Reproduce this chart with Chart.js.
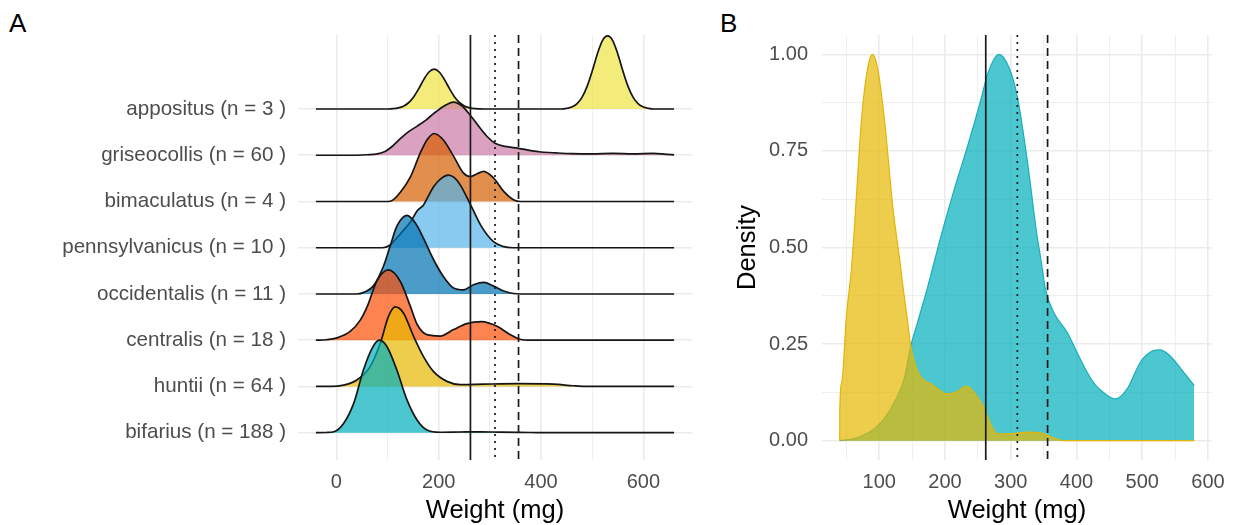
<!DOCTYPE html>
<html>
<head>
<meta charset="utf-8">
<script src="https://cdn.jsdelivr.net/npm/chart.js@4.4.1/dist/chart.umd.min.js"></script>
<style>
  body { margin: 0; background: #fff; width: 1236px; height: 525px; overflow: hidden; position: relative;
         font-family: 'Liberation Sans', Arial, sans-serif; }
  .tag { position: absolute; top: 10px; font-size: 26px; line-height: 26px; color: #000; }
  #wrapA { position: absolute; left: 0; top: 0; width: 700px; height: 525px; }
  #wrapB { position: absolute; left: 700px; top: 0; width: 536px; height: 525px; }
</style>
</head>
<body>
<div class="tag" style="left:9px">A</div>
<div class="tag" style="left:720px">B</div>
<div id="wrapA"><canvas id="ridgeChart"></canvas></div>
<div id="wrapB"><canvas id="densityChart"></canvas></div>
<script>
// ── data ──
const species = ['appositus (n = 3 )', 'griseocollis (n = 60 )', 'bimaculatus (n = 4 )', 'pennsylvanicus (n = 10 )',
                 'occidentalis (n = 11 )', 'centralis (n = 18 )', 'huntii (n = 64 )', 'bifarius (n = 188 )'];
const ridgeColors = ['#F0E442', '#CC79A7', '#D55E00', '#56B4E9', '#0072B2', '#FC4E07', '#E7B800', '#00AFBB'];

// ridge heights in row units, x in mg
const appositusX = [-40, 100, 111, 121, 131, 141, 151, 161, 171, 181, 191, 201, 211, 221, 231, 241, 251, 261, 271, 290,
                    440, 450, 460, 470, 480, 490, 500, 510, 520, 530, 540, 550, 560, 570, 580, 590, 600, 610, 620, 660];
const appositusH = [0, 0, 0.006, 0.023, 0.06, 0.135, 0.26, 0.44, 0.64, 0.80, 0.86, 0.80, 0.64, 0.44, 0.26, 0.135, 0.06, 0.023, 0.006, 0,
                    0, 0.014, 0.043, 0.11, 0.25, 0.49, 0.82, 1.19, 1.48, 1.58, 1.48, 1.19, 0.82, 0.49, 0.25, 0.11, 0.043, 0.014, 0, 0];
const griseoX = [-40, 40, 60, 80, 95, 110, 125, 140, 158, 175, 190, 210, 229, 245, 262, 280, 295, 310, 330, 356,
                 380, 400, 430, 460, 500, 540, 580, 620, 645, 660];
const griseoH = [0, 0, 0.01, 0.03, 0.08, 0.2, 0.36, 0.5, 0.63, 0.76, 0.9, 1.06, 1.15, 1.07, 0.86, 0.6, 0.4, 0.26, 0.19, 0.15,
                 0.1, 0.07, 0.05, 0.035, 0.03, 0.04, 0.03, 0.04, 0.02, 0.01];
const bimacX = [-40, 100, 110, 125, 145, 164, 177, 191, 209, 229, 248, 262, 275, 288, 307, 327, 346, 360, 660];
const bimacH = [0, 0, 0.03, 0.2, 0.54, 1.05, 1.33, 1.47, 1.33, 0.98, 0.62, 0.54, 0.6, 0.65, 0.51, 0.22, 0.04, 0, 0];
const pennX = [-40, 90, 105, 125, 145, 158, 170, 180, 190, 205, 219, 230, 242, 264, 284, 307, 325, 345, 660];
const pennH = [0, 0, 0.06, 0.3, 0.56, 0.8, 0.92, 1.12, 1.32, 1.5, 1.57, 1.52, 1.36, 0.89, 0.45, 0.13, 0.03, 0, 0];
const occidX = [-40, 40, 55, 72, 92, 105, 118, 138, 154, 170, 190, 209, 229, 248, 268, 288, 307, 327, 346, 360, 660];
const occidH = [0, 0, 0.04, 0.17, 0.6, 1.03, 1.46, 1.7, 1.54, 1.21, 0.74, 0.38, 0.13, 0.09, 0.2, 0.25, 0.17, 0.065, 0.01, 0, 0];
const centrX = [-40, -20, 1, 27, 47, 60, 80, 102, 125, 145, 158, 177, 203, 229, 255, 284, 314, 340, 359, 380, 660];
const centrH = [0, 0.01, 0.05, 0.19, 0.44, 0.72, 1.3, 1.52, 1.27, 0.72, 0.34, 0.12, 0.09, 0.23, 0.36, 0.4, 0.3, 0.12, 0.02, 0, 0];
const huntiiX = [-40, -10, 14, 40, 66, 86, 102, 115, 131, 151, 170, 190, 216, 242, 288, 353, 424, 463, 490, 660];
const huntiiH = [0, 0, 0.03, 0.14, 0.43, 0.94, 1.52, 1.72, 1.59, 1.08, 0.65, 0.32, 0.11, 0.04, 0.05, 0.06, 0.05, 0.015, 0, 0];
const bifarX = [-40, -20, -5, 14, 34, 53, 70, 84, 99, 118, 138, 158, 177, 203, 240, 281, 320, 380, 420, 660];
const bifarH = [0, 0.005, 0.02, 0.2, 0.64, 1.36, 1.83, 2.0, 1.86, 1.36, 0.71, 0.27, 0.06, 0.01, 0.015, 0.02, 0.012, 0.005, 0, 0];

// panel B, scaled densities
const yellowX = [39.9, 40, 43, 50, 58, 63, 73, 82, 90, 98, 108, 121, 131, 136, 143, 148, 159, 169, 179, 189,
                 204, 219, 232, 244, 260, 270, 280, 300, 325, 345, 366, 380, 579];
const yellowY = [0, 0.075, 0.15, 0.32, 0.45, 0.57, 0.83, 0.96, 1.0, 0.96, 0.83, 0.6, 0.47, 0.4, 0.31, 0.245, 0.177, 0.155, 0.147, 0.134,
                 0.121, 0.128, 0.141, 0.125, 0.082, 0.04, 0.018, 0.018, 0.022, 0.02, 0.007, 0, 0];
const tealX = [40, 60, 73, 88, 103, 113, 123, 138, 148, 159, 174, 194, 214, 234, 255, 265, 282, 297, 310, 325,
               340, 345, 353, 366, 386, 406, 426, 447, 459, 477, 497, 517, 527, 542, 563, 579];
const tealY = [0, 0.005, 0.012, 0.025, 0.048, 0.07, 0.1, 0.16, 0.245, 0.31, 0.4, 0.53, 0.65, 0.76, 0.885, 0.95, 1.0, 0.967, 0.89, 0.727,
               0.53, 0.478, 0.39, 0.33, 0.28, 0.21, 0.15, 0.117, 0.108, 0.134, 0.203, 0.233, 0.235, 0.22, 0.177, 0.143];

const refWeights = [262, 310, 356];   // solid, dotted, dashed
const ridgeTicks = [0, 100, 200, 300, 400, 500, 600];
const densTicksX = [50, 100, 150, 200, 250, 300, 350, 400, 450, 500, 550, 600];
const densTicksY = [0, 0.125, 0.25, 0.375, 0.5, 0.625, 0.75, 0.875, 1];

// ── helpers ──
Chart.defaults.font.family = "'Liberation Sans', Arial, sans-serif";
Chart.defaults.animation = false;

function hexA(hex, a) {
  const n = parseInt(hex.slice(1), 16);
  return `rgba(${n >> 16},${(n >> 8) & 255},${n & 255},${a})`;
}

const refLines = {
  id: 'refLines',
  afterDatasetsDraw(chart) {
    const { ctx, chartArea: a } = chart;
    const x = chart.scales.x;
    const dashes = [[], [2, 5], [8, 5]];
    ctx.save();
    ctx.strokeStyle = '#1a1a1a';
    ctx.lineWidth = 1.7;
    refWeights.forEach((w, i) => {
      const px = x.getPixelForValue(w);
      ctx.setLineDash(dashes[i]);
      ctx.beginPath(); ctx.moveTo(px, a.top); ctx.lineTo(px, a.bottom); ctx.stroke();
    });
    ctx.restore();
  }
};

const gridCol = '#EBEBEB';
const tickFont = { size: 20 };
const titleFont = { size: 25.5 };

// ── A. ridgeline ──
const ridgeSets = [[appositusX, appositusH], [griseoX, griseoH], [bimacX, bimacH], [pennX, pennH],
                   [occidX, occidH], [centrX, centrH], [huntiiX, huntiiH], [bifarX, bifarH]];

const ridgeDatasets = species.map((name, i) => {
  const row = species.length - 1 - i;
  const [xs, hs] = ridgeSets[i];
  return {
    label: name,
    data: xs.map((x, k) => ({ x, y: row + hs[k] })),
    order: row,
    fill: { value: row },
    backgroundColor: hexA(ridgeColors[i], 0.7),
    borderColor: '#151515',
    borderWidth: 1.7,
    pointRadius: 0,
    cubicInterpolationMode: 'monotone'
  };
});

new Chart(document.getElementById('ridgeChart'), {
  type: 'line',
  data: { datasets: ridgeDatasets },
  options: {
    responsive: true, maintainAspectRatio: false,
    layout: { padding: { left: 0, right: 8, top: 35, bottom: 0 } },
    plugins: { legend: { display: false }, tooltip: { enabled: false } },
    scales: {
      x: {
        type: 'linear', min: -75, max: 695,
        afterBuildTicks: s => { s.ticks = ridgeTicks.map(v => ({ value: v })); },
        afterFit: s => { s.height = 65; },
        grid: { color: gridCol, lineWidth: c => (c.tick && c.tick.value % 200 === 0 ? 1.6 : 0.8), drawTicks: false },
        border: { display: false },
        ticks: { padding: 10, color: '#4D4D4D', font: tickFont, maxRotation: 0, autoSkip: false,
                 callback: v => (v % 200 === 0 ? String(v) : '') },
        title: { display: true, text: 'Weight (mg)', color: '#000', font: titleFont, padding: { top: 0, bottom: -1 } }
      },
      y: {
        type: 'linear', min: -0.59, max: 8.6,
        afterBuildTicks: s => { s.ticks = species.map((_, i) => ({ value: i })); },
        afterFit: s => { s.width = 298; },
        grid: { color: gridCol, lineWidth: 1.6, drawTicks: false },
        border: { display: false },
        ticks: { padding: 12, color: '#4D4D4D', font: { size: 20.6 }, autoSkip: false,
                 callback: v => species[species.length - 1 - v] }
      }
    }
  },
  plugins: [refLines]
});

// ── B. overlaid densities ──
new Chart(document.getElementById('densityChart'), {
  type: 'line',
  data: {
    datasets: [
      {
        data: yellowX.map((x, k) => ({ x, y: yellowY[k] })),
        order: 0, fill: 'origin',
        backgroundColor: hexA('#E7B800', 0.7), borderColor: '#E2B50A', borderWidth: 1.2,
        pointRadius: 0, cubicInterpolationMode: 'monotone'
      },
      {
        data: tealX.map((x, k) => ({ x, y: tealY[k] })),
        order: 1, fill: 'origin',
        backgroundColor: hexA('#00AFBB', 0.7), borderColor: '#1AAEB8', borderWidth: 1.2,
        pointRadius: 0, cubicInterpolationMode: 'monotone'
      }
    ]
  },
  options: {
    responsive: true, maintainAspectRatio: false,
    layout: { padding: { left: 33, right: 24, top: 35, bottom: 0 } },
    plugins: { legend: { display: false }, tooltip: { enabled: false } },
    scales: {
      x: {
        type: 'linear', min: 13, max: 606,
        afterBuildTicks: s => { s.ticks = densTicksX.map(v => ({ value: v })); },
        afterFit: s => { s.height = 65; },
        grid: { color: gridCol, lineWidth: c => (c.tick && c.tick.value % 100 === 0 ? 1.6 : 0.8), drawTicks: false },
        border: { display: false },
        ticks: { padding: 10, color: '#4D4D4D', font: tickFont, maxRotation: 0, autoSkip: false,
                 callback: v => (v % 100 === 0 ? String(v) : '') },
        title: { display: true, text: 'Weight (mg)', color: '#000', font: titleFont, padding: { top: 0, bottom: -1 } }
      },
      y: {
        type: 'linear', min: -0.05, max: 1.05,
        afterBuildTicks: s => { s.ticks = densTicksY.map(v => ({ value: v })); },
        afterFit: s => { s.width = 89; },
        grid: { color: gridCol, lineWidth: c => (c.tick && (c.tick.value * 4) % 1 === 0 ? 1.6 : 0.8), drawTicks: false },
        border: { display: false },
        ticks: { padding: 14, color: '#4D4D4D', font: tickFont, autoSkip: false,
                 callback: v => ((v * 4) % 1 === 0 ? v.toFixed(2) : '') },
        title: { display: true, text: 'Density', color: '#000', font: titleFont, padding: { top: 0, bottom: 0 } }
      }
    }
  },
  plugins: [refLines]
});
</script>
</body>
</html>
